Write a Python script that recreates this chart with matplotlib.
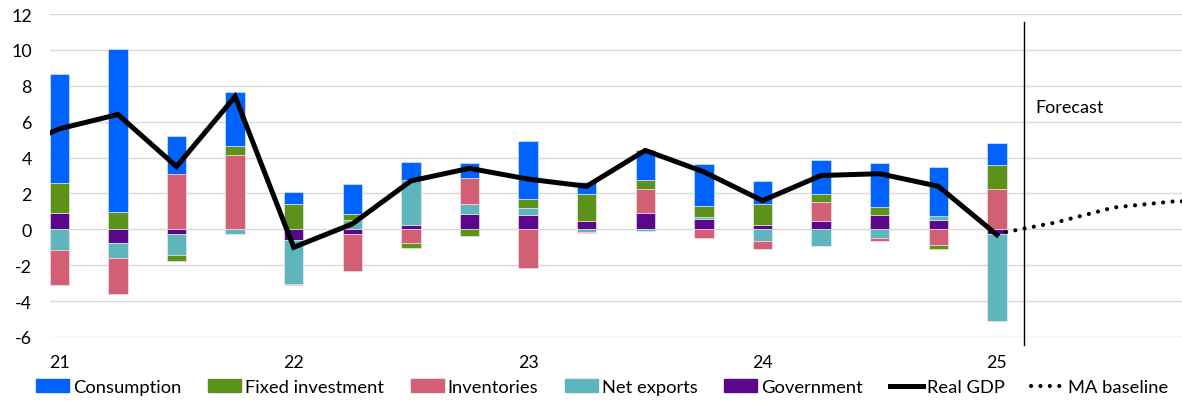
import matplotlib
matplotlib.use('Agg')
import matplotlib.pyplot as plt
import numpy as np
from matplotlib.lines import Line2D
from matplotlib.patches import Patch

plt.rcParams['font.family'] = ['Lato', 'DejaVu Sans']
plt.rcParams['axes.unicode_minus'] = False

# ---------------- data ----------------
quarters = ['21Q1', '21Q2', '21Q3', '21Q4', '22Q1', '22Q2', '22Q3', '22Q4',
            '23Q1', '23Q2', '23Q3', '23Q4', '24Q1', '24Q2', '24Q3', '24Q4', '25Q1']
consumption = [6.09, 9.05, 2.12, 3.01, 0.65, 1.69, 0.98, 0.84, 3.26, 0.68, 1.69,
               2.33, 1.30, 1.90, 2.48, 2.71, 1.23]
fixed_investment = [1.66, 0.99, -0.35, 0.53, 1.42, 0.34, -0.32, -0.39, 0.52, 1.51,
                    0.49, 0.63, 1.16, 0.42, 0.41, -0.19, 1.34]
inventories = [-1.94, -1.97, 3.09, 4.13, -0.11, -2.03, -0.74, 1.44, -2.18, -0.06,
               1.32, -0.48, -0.48, 1.07, -0.19, -0.88, 2.24]
net_exports = [-1.15, -0.84, -1.14, -0.28, -2.42, 0.50, 2.52, 0.57, 0.37, -0.13,
               -0.11, 0.09, -0.63, -0.93, -0.48, 0.26, -4.84]
government = [0.93, -0.78, -0.28, 0.0, -0.60, -0.28, 0.24, 0.86, 0.80, 0.45, 0.93,
              0.58, 0.26, 0.48, 0.82, 0.50, -0.25]

gdp_quarters = ['20Q4'] + quarters
real_gdp = [4.2, 5.6, 6.4, 3.5, 7.4, -1.0, 0.3, 2.7, 3.4, 2.8, 2.4, 4.4, 3.2, 1.6,
            3.0, 3.1, 2.4, -0.3]

ma_quarters = ['25Q1', '25Q2', '25Q3', '25Q4', '26Q1']
ma_baseline = [-0.25, 0.38, 1.22, 1.55, 1.62]

year_labels = ['21', '22', '23', '24', '25']
forecast_label = 'Forecast'

# ---------------- figure ----------------
W, H = 1182, 402
fig = plt.figure(figsize=(W / 100, H / 100), dpi=100)
ax = fig.add_axes([50 / W, 64 / H, 1132 / W, 323 / H])

def pos(q):
    y, qq = int(q[:2]), int(q[3])
    return (y - 21) * 4 + (qq - 1)

x = np.array([pos(q) for q in quarters])

colors = {
    'Consumption': '#0062FF',
    'Fixed investment': '#5C911A',
    'Inventories': '#D35F75',
    'Net exports': '#5FB5BC',
    'Government': '#5B078A',
}
stack_order = [('Government', government), ('Net exports', net_exports),
               ('Inventories', inventories), ('Fixed investment', fixed_investment),
               ('Consumption', consumption)]

pb = np.zeros(len(x))
nb = np.zeros(len(x))
bw = 0.33
for name, vals in stack_order:
    v = np.array(vals, dtype=float)
    m = v > 0
    ax.bar(x[m], v[m], bottom=pb[m], width=bw, color=colors[name],
           edgecolor='#f2f2f2', linewidth=0.4, zorder=2)
    pb[m] += v[m]
    m = v < 0
    ax.bar(x[m], v[m], bottom=nb[m], width=bw, color=colors[name],
           edgecolor='#f2f2f2', linewidth=0.4, zorder=2)
    nb[m] += v[m]

gx = np.array([pos(q) for q in gdp_quarters])
ax.plot(gx, real_gdp, color='black', lw=3.6, zorder=4, solid_joinstyle='miter')

mx = np.array([pos(q) for q in ma_quarters])
ax.plot(mx, ma_baseline, color='black', lw=3.0, linestyle=(0, (0.01, 2.25)),
        dash_capstyle='round', zorder=4)

# forecast divider
fx = pos('25Q1') + 0.47
ax.plot([fx, fx], [11.55, -6.45], color='black', lw=1.0, clip_on=False, zorder=3)
ax.text(fx + 0.18, 6.8, forecast_label, fontsize=13, va='center', ha='left')

# axes styling
ax.set_xlim(-0.159, 19.16)
ax.set_ylim(-6, 12)
ax.set_yticks(np.arange(-6, 13, 2))
ax.set_yticklabels([str(v) for v in np.arange(-6, 13, 2)])
ax.set_xticks([pos(y + 'Q1') for y in year_labels])
ax.set_xticklabels(year_labels)
ax.grid(axis='y', color='#D9D9D9', lw=1.0)
ax.set_axisbelow(True)
for s in ax.spines.values():
    s.set_visible(False)
ax.tick_params(axis='y', length=0, pad=13, labelsize=12.8)
ax.tick_params(axis='x', length=0, pad=12, labelsize=12.8)

handles = [Patch(color=colors[n]) for n in
           ['Consumption', 'Fixed investment', 'Inventories', 'Net exports', 'Government']]
handles += [Line2D([], [], color='black', lw=3.6),
            Line2D([], [], color='black', lw=3.0, linestyle=(0, (0.01, 2.25)),
                   dash_capstyle='round')]
labels = ['Consumption', 'Fixed investment', 'Inventories', 'Net exports',
          'Government', 'Real GDP', 'MA baseline']
fig.legend(handles, labels, loc='center left', bbox_to_anchor=(36 / W, 14 / H),
           ncol=7, frameon=False, fontsize=13.2, borderpad=0, borderaxespad=0,
           handlelength=1.8, handleheight=0.7, handletextpad=0.22,
           columnspacing=1.45)

fig.savefig('out.png', dpi=100)
